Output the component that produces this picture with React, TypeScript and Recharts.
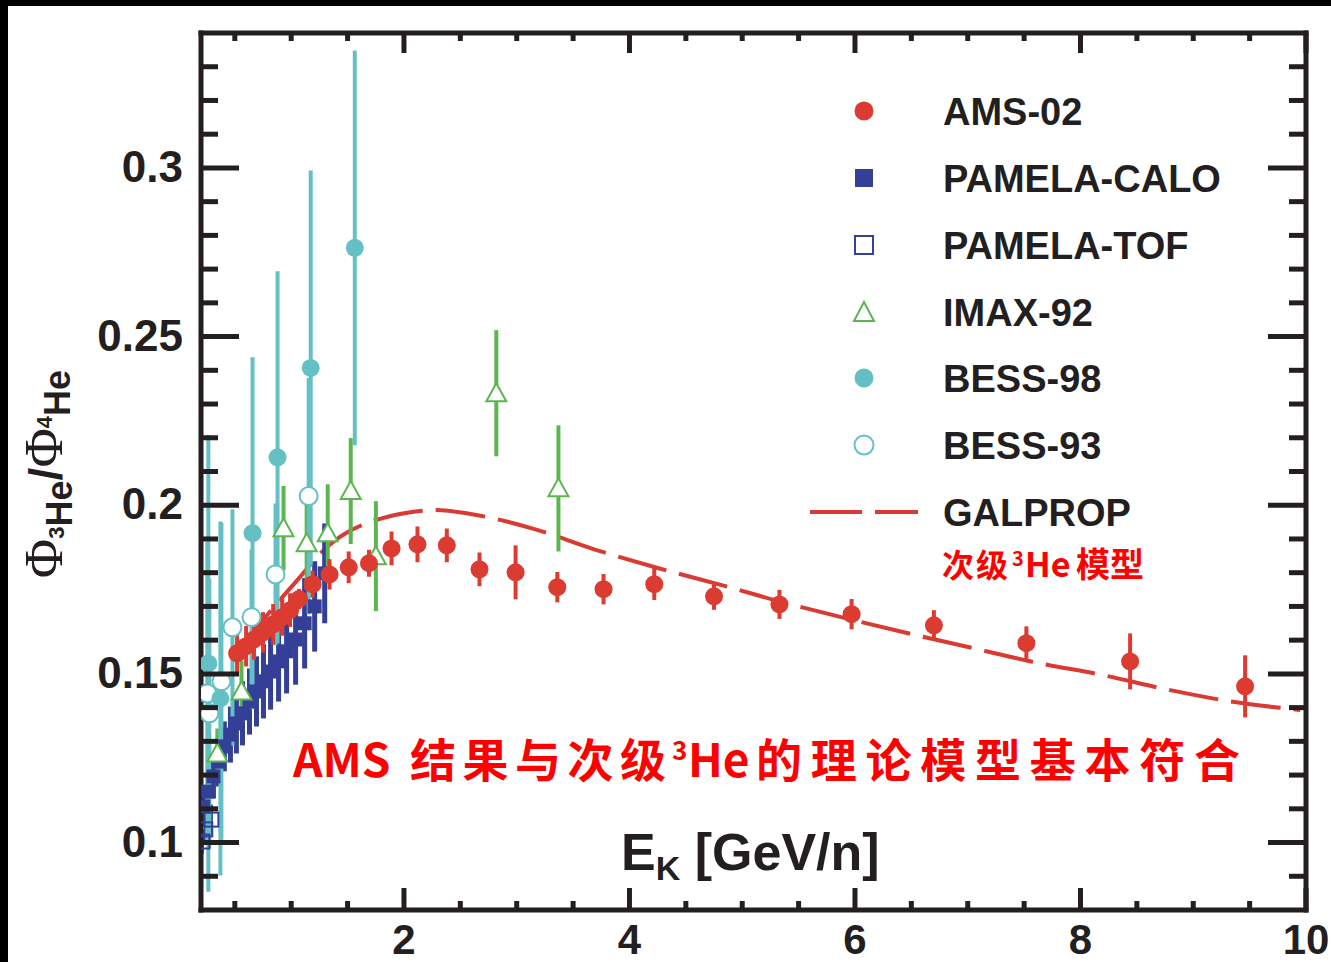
import React from 'react';
import { ComposedChart, Scatter, Line, XAxis, YAxis, ErrorBar } from 'recharts';

const AMS_RED = '#dc3b31';
const GAL_RED = '#da3a32';
const PAM_BLUE = '#343f98';
const IMAX_GREEN = '#5cb64f';
const BESS_CYAN = '#65c0c5';
const INK = '#231f20';
const NOTE_RED = '#ff0000';

// AMS-02 3He/4He ratio, e = 1 sigma
const ams02 = [
  { x: 0.52, y: 0.1561, e: 0.0065 },
  { x: 0.60, y: 0.1582, e: 0.006 },
  { x: 0.67, y: 0.1602, e: 0.006 },
  { x: 0.75, y: 0.1623, e: 0.006 },
  { x: 0.84, y: 0.1647, e: 0.006 },
  { x: 0.92, y: 0.1668, e: 0.0055 },
  { x: 0.99, y: 0.1689, e: 0.005 },
  { x: 1.07, y: 0.1722, e: 0.003 },
  { x: 1.19, y: 0.1766, e: 0.004 },
  { x: 1.34, y: 0.1795, e: 0.0045 },
  { x: 1.51, y: 0.1816, e: 0.0047 },
  { x: 1.69, y: 0.1828, e: 0.004 },
  { x: 1.89, y: 0.1872, e: 0.005 },
  { x: 2.12, y: 0.1884, e: 0.0053 },
  { x: 2.38, y: 0.1881, e: 0.005 },
  { x: 2.67, y: 0.181, e: 0.005 },
  { x: 2.99, y: 0.1801, e: 0.008 },
  { x: 3.36, y: 0.1757, e: 0.0045 },
  { x: 3.77, y: 0.1751, e: 0.0045 },
  { x: 4.22, y: 0.1766, e: 0.0047 },
  { x: 4.75, y: 0.173, e: 0.004 },
  { x: 5.33, y: 0.1706, e: 0.0043 },
  { x: 5.97, y: 0.1677, e: 0.0045 },
  { x: 6.70, y: 0.1644, e: 0.0045 },
  { x: 7.52, y: 0.1591, e: 0.005 },
  { x: 8.44, y: 0.1537, e: 0.0083 },
  { x: 9.46, y: 0.1463, e: 0.0092 },
];

const pamelaCalo = [
  { x: 0.22, y: 0.1107, e: 0.006 },
  { x: 0.265, y: 0.1151, e: 0.006 },
  { x: 0.31, y: 0.1196, e: 0.0065 },
  { x: 0.354, y: 0.124, e: 0.0074 },
  { x: 0.407, y: 0.1285, e: 0.0074 },
  { x: 0.461, y: 0.132, e: 0.0083 },
  { x: 0.514, y: 0.1353, e: 0.0089 },
  { x: 0.568, y: 0.1383, e: 0.0095 },
  { x: 0.63, y: 0.1418, e: 0.0098 },
  { x: 0.692, y: 0.1448, e: 0.0104 },
  { x: 0.754, y: 0.1478, e: 0.011 },
  { x: 0.817, y: 0.1507, e: 0.0113 },
  { x: 0.888, y: 0.1537, e: 0.0119 },
  { x: 0.959, y: 0.1567, e: 0.0125 },
  { x: 1.039, y: 0.1602, e: 0.0134 },
  { x: 1.119, y: 0.165, e: 0.0134 },
  { x: 1.208, y: 0.17, e: 0.0134 },
  { x: 1.297, y: 0.1798, e: 0.0148 },
];

const pamelaTof = [
  { x: 0.212, y: 0.1003, e: 0.0036 },
  { x: 0.238, y: 0.1039, e: 0.0045 },
  { x: 0.292, y: 0.1068, e: 0.0045 },
];

const imax92 = [
  { x: 0.345, y: 0.1264, e: 0.0074 },
  { x: 0.559, y: 0.1448, e: 0.009 },
  { x: 0.932, y: 0.1932, e: 0.0125 },
  { x: 1.137, y: 0.1887, e: 0.0137 },
  { x: 1.324, y: 0.1917, e: 0.0145 },
  { x: 1.528, y: 0.2042, e: 0.0157 },
  { x: 1.751, y: 0.1849, e: 0.0163 },
  { x: 2.819, y: 0.2332, e: 0.0187 },
  { x: 3.37, y: 0.205, e: 0.0187 },
];

const bess98 = [
  { x: 0.265, y: 0.1531, e: 0.0677 },
  { x: 0.372, y: 0.1427, e: 0.0525 },
  { x: 0.657, y: 0.1917, e: 0.0522 },
  { x: 0.879, y: 0.2142, e: 0.0552 },
  { x: 1.173, y: 0.2407, e: 0.0585 },
  { x: 1.564, y: 0.2763, e: 0.0585 },
];

const bess93 = [
  { x: 0.256, y: 0.1442, e: 0.045 },
  { x: 0.274, y: 0.1383, e: 0.04 },
  { x: 0.381, y: 0.1478, e: 0.047 },
  { x: 0.479, y: 0.1638, e: 0.035 },
  { x: 0.648, y: 0.1668, e: 0.02 },
  { x: 0.861, y: 0.1795, e: 0.021 },
  { x: 1.155, y: 0.2027, e: 0.035 },
];

// GALPROP secondary 3He model
const galprop = [
  { x: 0.545, y: 0.1571 },
  { x: 0.723, y: 0.1648 },
  { x: 0.90, y: 0.1719 },
  { x: 1.078, y: 0.1787 },
  { x: 1.255, y: 0.1856 },
  { x: 1.432, y: 0.1906 },
  { x: 1.76, y: 0.1957 },
  { x: 2.03, y: 0.1978 },
  { x: 2.29, y: 0.1986 },
  { x: 2.59, y: 0.1974 },
  { x: 3.15, y: 0.193 },
  { x: 3.68, y: 0.187 },
  { x: 4.25, y: 0.1814 },
  { x: 4.81, y: 0.1764 },
  { x: 5.32, y: 0.1716 },
  { x: 5.94, y: 0.1663 },
  { x: 6.50, y: 0.1618 },
  { x: 7.04, y: 0.1577 },
  { x: 7.63, y: 0.1532 },
  { x: 8.19, y: 0.1497 },
  { x: 8.75, y: 0.1455 },
  { x: 9.32, y: 0.1419 },
  { x: 9.95, y: 0.1393 },
];

const xMajor = [2, 4, 6, 8, 10];
const xMinor = Array.from({ length: 19 }, (_, i) => 0.5 * (i + 1)).filter(v => v % 2 !== 0);
const yMajor = [0.1, 0.15, 0.2, 0.25, 0.3];
const yMinor = Array.from({ length: 25 }, (_, i) => (9 + i) / 100)
  .filter(v => !yMajor.some(m => Math.abs(m - v) < 1e-9));

const legendRows = [
  { label: 'AMS-02', kind: 'dot', y: 111 },
  { label: 'PAMELA-CALO', kind: 'square', y: 178 },
  { label: 'PAMELA-TOF', kind: 'osquare', y: 245 },
  { label: 'IMAX-92', kind: 'tri', y: 312 },
  { label: 'BESS-98', kind: 'cdot', y: 378 },
  { label: 'BESS-93', kind: 'ocircle', y: 445 },
  { label: 'GALPROP', kind: 'line', y: 512 },
];

const SANS = "'Liberation Sans', Arial, Helvetica, sans-serif";
const CJK = "'Noto Sans CJK SC', 'Noto Sans', sans-serif";
const SERIF = "'Liberation Serif', 'DejaVu Serif', serif";
const AX = { stroke: INK, strokeWidth: 5, strokeLinecap: 'square' as const };

const dot = (color: string, r = 9) => (p: any) => <circle cx={p.cx} cy={p.cy} r={r} fill={color} />;
const sq = (p: any) => <rect x={p.cx - 7} y={p.cy - 7} width={14} height={14} fill={PAM_BLUE} />;
const osq = (p: any) => <rect x={p.cx - 7} y={p.cy - 7} width={14} height={14} fill="none" stroke={PAM_BLUE} strokeWidth={2} />;
const tri = (p: any) => (
  <polygon points={`${p.cx},${p.cy - 10} ${p.cx + 10},${p.cy + 8} ${p.cx - 10},${p.cy + 8}`}
    fill="#fff" stroke={IMAX_GREEN} strokeWidth={2} />
);
const ocirc = (p: any) => <circle cx={p.cx} cy={p.cy} r={9} fill="#fff" stroke={BESS_CYAN} strokeWidth={2} />;

const bottomTick = (len: number, label: boolean) => (p: any) => (
  <g>
    <line x1={p.x} x2={p.x} y1={p.y} y2={p.y - len} stroke={INK} strokeWidth={5} />
    {label && (
      <text x={p.x} y={p.y + 44} textAnchor="middle" fontFamily={SANS} fontWeight="bold" fontSize={42} fill={INK}>
        {p.payload.value}
      </text>
    )}
  </g>
);
const topTick = (len: number) => (p: any) => (
  <line x1={p.x} x2={p.x} y1={p.y} y2={p.y + len} stroke={INK} strokeWidth={5} />
);
const leftTick = (len: number, label: boolean) => (p: any) => (
  <g>
    <line x1={p.x} x2={p.x + len} y1={p.y} y2={p.y} stroke={INK} strokeWidth={5} />
    {label && (
      <text x={p.x - 18} y={p.y + 14} textAnchor="end" fontFamily={SANS} fontWeight="bold" fontSize={44} fill={INK}>
        {p.payload.value}
      </text>
    )}
  </g>
);
const rightTick = (len: number) => (p: any) => (
  <line x1={p.x} x2={p.x - len} y1={p.y} y2={p.y} stroke={INK} strokeWidth={5} />
);

const LegendSymbol = ({ kind, y }: { kind: string; y: number }) => {
  const cx = 864;
  switch (kind) {
    case 'dot': return <circle cx={cx} cy={y} r={9.5} fill={AMS_RED} />;
    case 'square': return <rect x={cx - 9} y={y - 9} width={18} height={18} fill={PAM_BLUE} />;
    case 'osquare': return <rect x={cx - 9} y={y - 9} width={18} height={18} fill="none" stroke={PAM_BLUE} strokeWidth={2} />;
    case 'tri': return <polygon points={`${cx},${y - 10} ${cx + 10},${y + 9} ${cx - 10},${y + 9}`} fill="none" stroke={IMAX_GREEN} strokeWidth={2} />;
    case 'cdot': return <circle cx={cx} cy={y} r={9.5} fill={BESS_CYAN} />;
    case 'ocircle': return <circle cx={cx} cy={y} r={9.5} fill="none" stroke={BESS_CYAN} strokeWidth={2} />;
    default: return <line x1={810} x2={918} y1={y} y2={y} stroke={GAL_RED} strokeWidth={4} strokeDasharray="52 13" />;
  }
};

const noteProps = { fontFamily: CJK, fontWeight: 'bold' as const, fill: NOTE_RED };

const App: React.FC = () => {
  return (
    <div style={{ position: 'absolute', left: 0, top: 0, width: 1331, height: 962, background: '#000', overflow: 'hidden' }}>
      <div style={{ position: 'absolute', left: 8, top: 6, width: 1323, height: 956, background: '#fff' }}>
        <ComposedChart width={1323} height={956} margin={{ top: 25, right: 23, bottom: 50, left: 191 }}>
          <XAxis type="number" dataKey="x" domain={[0.2, 10]} allowDataOverflow height={1}
            ticks={xMajor} interval={0} tickSize={0} tickMargin={0} tickLine={false} axisLine={AX} tick={bottomTick(22, true)} />
          <XAxis xAxisId="minB" type="number" dataKey="x" domain={[0.2, 10]} allowDataOverflow height={1}
            ticks={xMinor} interval={0} tickSize={0} tickMargin={0} tickLine={false} axisLine={false} tick={bottomTick(10, false)} />
          <XAxis xAxisId="top" orientation="top" type="number" dataKey="x" domain={[0.2, 10]} allowDataOverflow height={1}
            ticks={xMajor} interval={0} tickSize={0} tickMargin={0} tickLine={false} axisLine={AX} tick={topTick(20)} />
          <XAxis xAxisId="topMin" orientation="top" type="number" dataKey="x" domain={[0.2, 10]} allowDataOverflow height={1}
            ticks={xMinor} interval={0} tickSize={0} tickMargin={0} tickLine={false} axisLine={false} tick={topTick(9)} />
          <YAxis type="number" dataKey="y" domain={[0.08, 0.34]} allowDataOverflow width={1}
            ticks={yMajor} interval={0} tickSize={0} tickMargin={0} tickLine={false} axisLine={AX} tick={leftTick(38, true)} />
          <YAxis yAxisId="minL" type="number" domain={[0.08, 0.34]} allowDataOverflow width={1}
            ticks={yMinor} interval={0} tickSize={0} tickMargin={0} tickLine={false} axisLine={false} tick={leftTick(18, false)} />
          <YAxis yAxisId="right" orientation="right" type="number" domain={[0.08, 0.34]} allowDataOverflow width={1}
            ticks={yMajor} interval={0} tickSize={0} tickMargin={0} tickLine={false} axisLine={AX} tick={rightTick(38)} />
          <YAxis yAxisId="rightMin" orientation="right" type="number" domain={[0.08, 0.34]} allowDataOverflow width={1}
            ticks={yMinor} interval={0} tickSize={0} tickMargin={0} tickLine={false} axisLine={false} tick={rightTick(18)} />

          <Line data={galprop} dataKey="y" type="monotone" stroke={GAL_RED} strokeWidth={4}
            strokeDasharray="50 13" dot={false} activeDot={false} isAnimationActive={false} />

          <Scatter data={pamelaCalo} dataKey="y" shape={sq} isAnimationActive={false}>
            <ErrorBar dataKey="e" direction="y" width={0} stroke={PAM_BLUE} strokeWidth={5} />
          </Scatter>
          <Scatter data={pamelaTof} dataKey="y" shape={osq} isAnimationActive={false}>
            <ErrorBar dataKey="e" direction="y" width={0} stroke={PAM_BLUE} strokeWidth={3} />
          </Scatter>
          <Scatter data={imax92} dataKey="y" shape={tri} isAnimationActive={false}>
            <ErrorBar dataKey="e" direction="y" width={0} stroke={IMAX_GREEN} strokeWidth={4} />
          </Scatter>
          <Scatter data={bess93} dataKey="y" shape={ocirc} isAnimationActive={false}>
            <ErrorBar dataKey="e" direction="y" width={0} stroke={BESS_CYAN} strokeWidth={4} />
          </Scatter>
          <Scatter data={bess98} dataKey="y" shape={dot(BESS_CYAN)} isAnimationActive={false}>
            <ErrorBar dataKey="e" direction="y" width={0} stroke={BESS_CYAN} strokeWidth={4} />
          </Scatter>
          <Scatter data={ams02} dataKey="y" shape={dot(AMS_RED)} isAnimationActive={false}>
            <ErrorBar dataKey="e" direction="y" width={0} stroke={AMS_RED} strokeWidth={4} />
          </Scatter>
        </ComposedChart>
      </div>

      <svg width={1331} height={962} style={{ position: 'absolute', left: 0, top: 0, pointerEvents: 'none' }}>
        {legendRows.map(r => (
          <g key={r.label}>
            <LegendSymbol kind={r.kind} y={r.y} />
            <text x={943} y={r.y + 14} fontFamily={SANS} fontWeight="bold" fontSize={38} fill={INK}>{r.label}</text>
          </g>
        ))}

        {/* 次级³He模型 */}
        <text x={942} y={577} fontSize={32} textLength={66} lengthAdjust="spacing" {...noteProps}>次级</text>
        <text x={1012} y={566} fontSize={20} {...noteProps}>3</text>
        <text x={1025} y={577} fontSize={34} {...noteProps}>He</text>
        <text x={1076} y={577} fontSize={34} {...noteProps}>模型</text>

        {/* AMS 结果与次级³He的理论模型基本符合 */}
        <text x={293} y={777} fontSize={46} {...noteProps}>AMS</text>
        <text x={410} y={777} fontSize={46} textLength={256} lengthAdjust="spacing" {...noteProps}>结果与次级</text>
        <text x={672} y={760} fontSize={26} {...noteProps}>3</text>
        <text x={688} y={777} fontSize={46} {...noteProps}>He</text>
        <text x={756} y={777} fontSize={46} textLength={484} lengthAdjust="spacing" {...noteProps}>的理论模型基本符合</text>

        <text x={621} y={870} fontFamily={SANS} fontWeight="bold" fontSize={52} fill={INK}>
          E<tspan fontSize={34} dy={10}>K</tspan><tspan dy={-10}> [GeV/n]</tspan>
        </text>
        <text transform="translate(62,474) rotate(-90)" textAnchor="middle" fill={INK}>
          <tspan fontFamily={SERIF} fontSize={54}>Φ</tspan>
          <tspan fontFamily={SANS} fontWeight="bold" fontSize={22} dy={2}>3</tspan>
          <tspan fontFamily={SANS} fontWeight="bold" fontSize={36} dy={8}>He</tspan>
          <tspan fontFamily={SANS} fontWeight="bold" fontSize={46} dy={-10}>/</tspan>
          <tspan fontFamily={SERIF} fontSize={54}>Φ</tspan>
          <tspan fontFamily={SANS} fontWeight="bold" fontSize={22} dy={-10}>4</tspan>
          <tspan fontFamily={SANS} fontWeight="bold" fontSize={36} dy={18}>He</tspan>
        </text>
      </svg>
    </div>
  );
};

export default App;
